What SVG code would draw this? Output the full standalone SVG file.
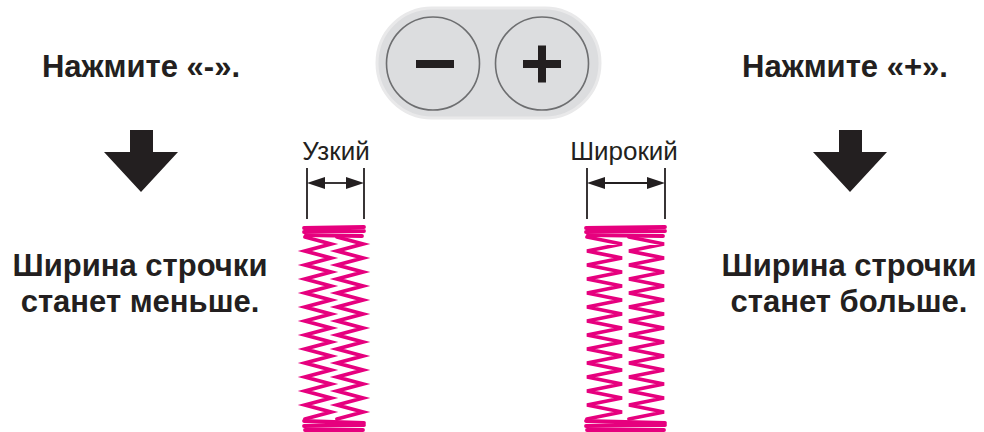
<svg xmlns="http://www.w3.org/2000/svg" width="984" height="432" viewBox="0 0 984 432">
<style>
.t{font-family:"Liberation Sans",Arial,sans-serif;fill:#231f20;}
.b{font-weight:bold;font-size:31px;text-anchor:middle;}
.s{font-size:26px;text-anchor:middle;}
.dim{stroke:#231f20;stroke-width:1.8;fill:none;}
.ah{fill:#231f20;}
.st{stroke:#e6007e;stroke-width:3.8;fill:none;stroke-linejoin:miter;stroke-linecap:round;}
.down{fill:#231f20;}
.btn{fill:#dcdddf;stroke:#6d6e70;stroke-width:1.6;}
.sym{fill:#231f20;}
</style>
<defs>
<path id="zn" d="M0,0 l26,7 l-26,7 l26,7 l-26,7 l26,7 l-26,7 l26,7 l-26,7 l26,7 l-26,7 l26,7 l-26,7 l26,7 l-26,7 l26,7 l-26,7 l26,7 l-26,7 l26,7 l-26,7 l26,7 l-26,7 l26,7 l-26,7 l26,7 l-26,7"/>
<path id="zw" d="M0,0 l35,7 l-35,7 l35,7 l-35,7 l35,7 l-35,7 l35,7 l-35,7 l35,7 l-35,7 l35,7 l-35,7 l35,7 l-35,7 l35,7 l-35,7 l35,7 l-35,7 l35,7 l-35,7 l35,7 l-35,7 l35,7 l-35,7 l35,7 l-35,7"/>
</defs>

<g id="buttons">
<rect x="377" y="8" width="223" height="110" rx="55" ry="55" fill="#dcdddf" stroke="#e9e9ea" stroke-width="3"/>
<g id="minus-button">
<circle class="btn" cx="433" cy="63.5" r="46.5"/>
<rect class="sym" x="416" y="60" width="38" height="8"/>
</g>
<g id="plus-button">
<circle class="btn" cx="542" cy="63.5" r="46.5"/>
<rect class="sym" x="523" y="60" width="38" height="8"/>
<rect class="sym" x="538" y="45.5" width="8" height="37"/>
</g>
</g>

<g id="left-instruction">
<text class="t b" x="141" y="77">Нажмите «-».</text>
</g>
<g id="right-instruction">
<text class="t b" x="845" y="77">Нажмите «+».</text>
</g>

<g id="left-arrow">
<polygon class="down" points="130,130 153,130 153,152 178,152 141,192 104,152 130,152"/>
</g>
<g id="right-arrow">
<polygon class="down" points="839,130 862,130 862,152 887,152 850,192 813,152 839,152"/>
</g>

<g id="left-result">
<text class="t b" x="140" y="276">Ширина строчки</text>
<text class="t b" x="140" y="312">станет меньше.</text>
</g>
<g id="right-result">
<text class="t b" x="849" y="276">Ширина строчки</text>
<text class="t b" x="849" y="312">станет больше.</text>
</g>

<g id="narrow-stitch">
<text class="t s" x="336" y="160">Узкий</text>
<line class="dim" x1="307" y1="168" x2="307" y2="219"/>
<line class="dim" x1="364" y1="168" x2="364" y2="219"/>
<line class="dim" x1="320" y1="183" x2="351" y2="183"/>
<polygon class="ah" points="307,183 325,177 325,189"/>
<polygon class="ah" points="364,183 346,177 346,189"/>
<use href="#zn" class="st" x="305" y="237"/>
<use href="#zn" class="st" x="337" y="237"/>
<path class="st" d="M304,228 L364,227 M304,232 L364,231 M306,235 L362,236 M304,421 L364,423 M304,426 L364,425 M305,430 L363,430"/>
</g>

<g id="wide-stitch">
<text class="t s" x="624" y="160">Широкий</text>
<line class="dim" x1="587" y1="168" x2="587" y2="219"/>
<line class="dim" x1="665" y1="168" x2="665" y2="219"/>
<line class="dim" x1="600" y1="183" x2="652" y2="183"/>
<polygon class="ah" points="587,183 605,177 605,189"/>
<polygon class="ah" points="665,183 647,177 647,189"/>
<use href="#zw" class="st" x="587" y="237"/>
<use href="#zw" class="st" x="629" y="237"/>
<path class="st" d="M586,228 L665,227 M586,232 L665,231 M588,235 L663,236 M586,421 L665,423 M586,426 L665,425 M587,430 L664,430"/>
</g>
</svg>
